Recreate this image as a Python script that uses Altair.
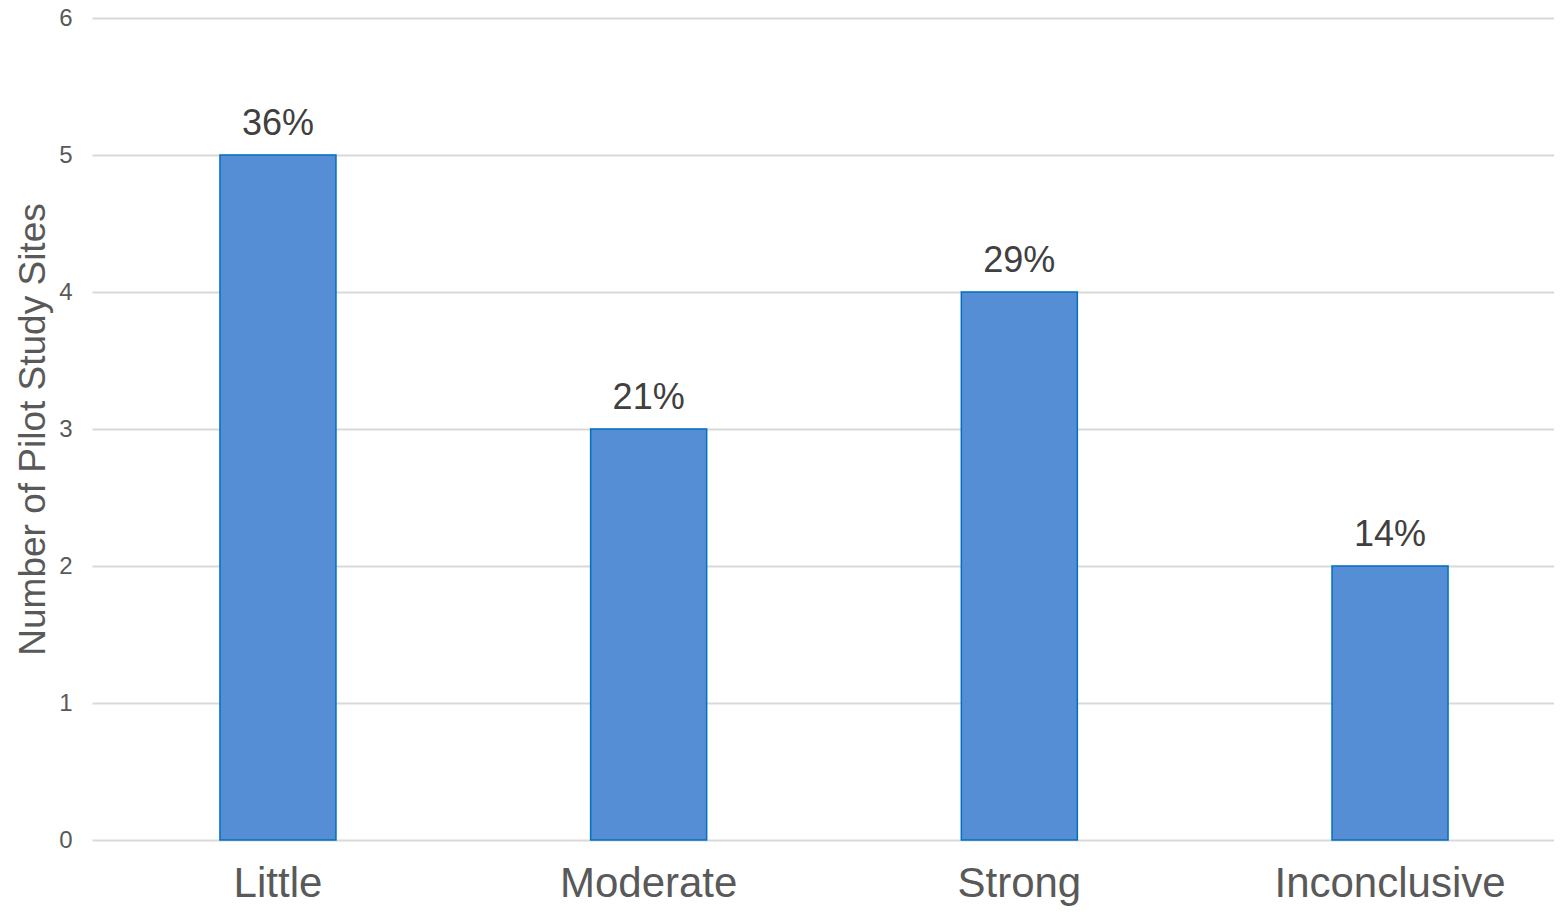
import altair as alt
import pandas as pd

categories = ["Little", "Moderate", "Strong", "Inconclusive"]
counts = [5, 3, 4, 2]
pct_labels = ["36%", "21%", "29%", "14%"]

df = pd.DataFrame({"category": categories, "count": counts, "pct": pct_labels})

FONT = "Liberation Sans"

x = alt.X(
    "category:N",
    sort=categories,
    title=None,
    scale=alt.Scale(paddingInner=0.687, paddingOuter=0.3155, align=0.547),
    axis=alt.Axis(labelAngle=0, labelLimit=0),
)
y = alt.Y(
    "count:Q",
    title="Number of Pilot Study Sites",
    scale=alt.Scale(domain=[0, 6], nice=False),
    axis=alt.Axis(values=[0, 1, 2, 3, 4, 5, 6], format="d", grid=True),
)

bars = alt.Chart(df).mark_bar(
    fill="#558ED5", stroke="#0070C0", strokeWidth=1.5
).encode(x=x, y=y)

text = alt.Chart(df).mark_text(
    font=FONT, fontSize=36, color="#404040", baseline="bottom", dy=-12
).encode(
    x=alt.X("category:N", sort=categories, title=None),
    y=alt.Y("count:Q", title="Number of Pilot Study Sites"),
    text="pct:N",
)

chart = (
    alt.layer(bars, text)
    .properties(
        width=1462,
        height=822,
        background="white",
        autosize=alt.AutoSizeParams(type="none"),
        padding={"left": 84, "top": 10, "right": 0, "bottom": 66},
    )
    .configure_view(stroke="transparent", strokeWidth=0)
    .configure_axisX(
        labelFont=FONT,
        labelFontSize=42,
        labelColor="#595959",
        labelPadding=23,
        labelLimit=0,
        ticks=False,
        domain=False,
        grid=False,
    )
    .configure_axisY(
        labelFont=FONT,
        labelFontSize=24,
        labelColor="#595959",
        labelPadding=20,
        ticks=False,
        domain=False,
        grid=True,
        gridColor="#D9D9D9",
        gridWidth=2,
        titleFont=FONT,
        titleFontSize=37,
        titleFontWeight="normal",
        titleColor="#595959",
        titlePadding=6,
    )
)

chart.save("out.html", embed_options={"renderer": "svg", "actions": False})
